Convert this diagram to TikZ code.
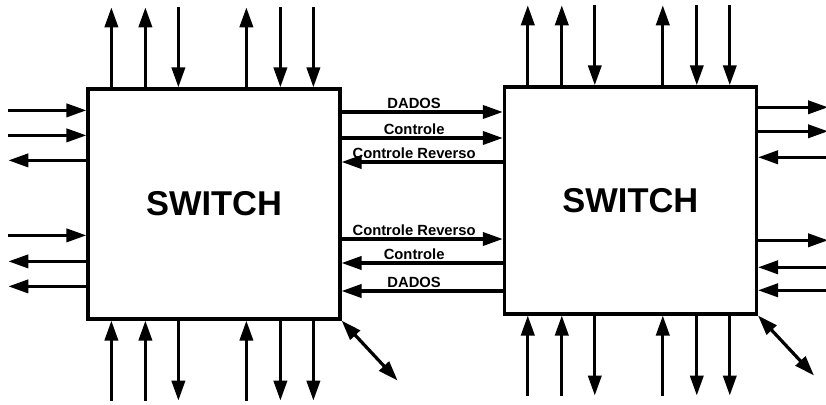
\documentclass[tikz,border=0pt]{standalone}
\usepackage{fontspec}
\setmainfont{Liberation Sans}
\usetikzlibrary{arrows.meta,calc,positioning}

\begin{document}
\begin{tikzpicture}[>={Triangle[length=0.5cm,width=0.33cm]}, line width=2.3pt,
  switch/.style={draw, line width=2.3pt, minimum width=6.3cm, minimum height=5.75cm,
    font=\fontsize{24.5}{28}\selectfont\bfseries},
  lbl/.style={font=\fontsize{10.5}{12}\selectfont\bfseries, above, inner sep=1.5pt, pos=0.45}]

  \useasboundingbox (0,0) rectangle (20.65,10.1);

  % ============================================================
  % SWITCHES
  % ============================================================
  \node[switch] (swL) at (5.35,5.0) {SWITCH};
  \node[switch, minimum height=5.675cm] (swR) at (15.76,5.09) {SWITCH};

  % Top and bottom ports (same pattern on both switches)
  \foreach \sw in {swL,swR} {
    \foreach \dx/\tip in {0.625/->, 1.475/->, 2.3/<-, 4.0/->, 4.85/<-, 5.675/<-} {
      \coordinate (pb) at ($(\sw.north west)+(\dx,0)$);
      \coordinate (pt) at ($(pb)+(0,2)$);
      \draw[\tip] (pb) -- (pt);
    }
    \foreach \dx/\tip in {0.625/<-, 1.475/<-, 2.3/->, 4.0/<-, 4.85/->, 5.675/->} {
      \coordinate (pb) at ($(\sw.south west)+(\dx,0)$);
      \coordinate (pt) at ($(pb)+(0,-2)$);
      \draw[\tip] (pb) -- (pt);
    }
    % Diagonal port
    \coordinate (pd) at ($(\sw.south east)+(1.4,-1.5)$);
    \draw[<->] (\sw.south east) -- (pd);
  }

  % Left ports of the left switch
  \foreach \dy/\tip in {0.575/<-, 1.2/<-, 1.825/->, 3.7/<-, 4.35/->, 4.975/->} {
    \coordinate (pb) at ($(swL.north west)+(0,-\dy)$);
    \coordinate (pt) at ($(pb)+(-1.95,0)$);
    \draw[\tip] (pb) -- (pt);
  }

  % Right ports of the right switch
  \foreach \dy/\tip in {0.55/->, 1.15/->, 1.8/<-, 3.875/->, 4.55/<-, 5.125/<-} {
    \coordinate (pb) at ($(swR.north east)+(0,-\dy)$);
    \coordinate (pt) at ($(pb)+(1.75,0)$);
    \draw[\tip] (pb) -- (pt);
  }

  % ============================================================
  % LINKS BETWEEN THE SWITCHES
  % ============================================================
  \draw[->] (swL.east |- 0,7.3) -- node[lbl] {DADOS} (swR.west |- 0,7.3);
  \draw[->] (swL.east |- 0,6.65) -- node[lbl] {Controle} (swR.west |- 0,6.65);
  \draw[<-] (swL.east |- 0,6.05) -- node[lbl] {Controle Reverso} (swR.west |- 0,6.05);

  \draw[->] (swL.east |- 0,4.125) -- node[lbl] {Controle Reverso} (swR.west |- 0,4.125);
  \draw[<-] (swL.east |- 0,3.525) -- node[lbl] {Controle} (swR.west |- 0,3.525);
  \draw[<-] (swL.east |- 0,2.825) -- node[lbl] {DADOS} (swR.west |- 0,2.825);

\end{tikzpicture}
\end{document}
